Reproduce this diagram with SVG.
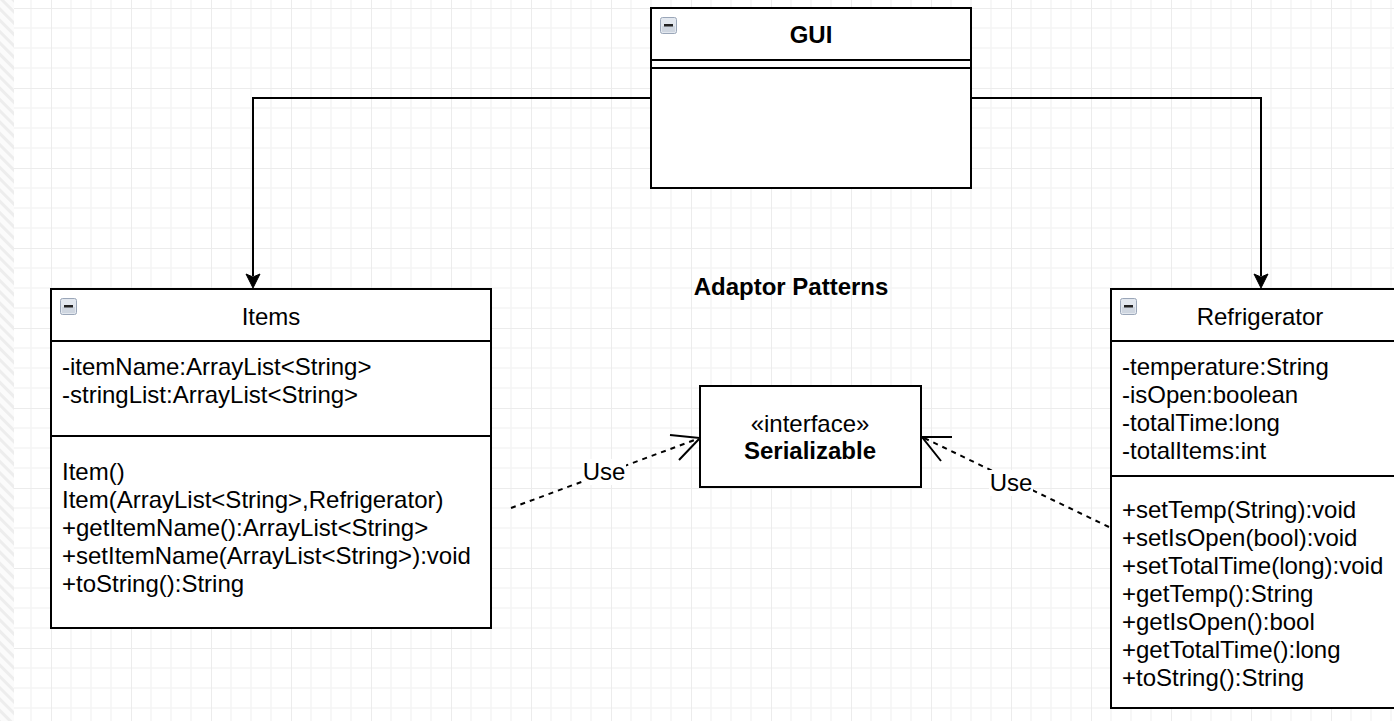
<svg xmlns="http://www.w3.org/2000/svg" width="1394" height="721" viewBox="0 0 1394 721">
  <style>
    .box { fill: #ffffff; stroke: #000000; stroke-width: 2; }
    .sep { stroke: #000000; stroke-width: 2; fill: none; }
    .title { font-family: "Liberation Sans", Arial, sans-serif; font-size: 24px; fill: #000; text-anchor: middle; }
    .bold { font-weight: bold; }
    .member { font-family: "Liberation Sans", Arial, sans-serif; font-size: 24px; fill: #000; }
    .edge { stroke: #000000; stroke-width: 2; fill: none; }
    .dash { stroke: #000000; stroke-width: 2; fill: none; stroke-dasharray: 5 5; }
    .head { fill: #000000; stroke: #000000; stroke-width: 1; }
    .open { stroke: #000000; stroke-width: 2; fill: none; }
    .label { font-family: "Liberation Sans", Arial, sans-serif; font-size: 24px; fill: #000; text-anchor: middle; }
  </style>
  <defs>
    <pattern id="grid" x="51" y="8" width="80" height="80" patternUnits="userSpaceOnUse">
      <path d="M20 0V80M40 0V80M60 0V80M0 20H80M0 40H80M0 60H80" stroke="#f5f5f5" stroke-width="1.5"/>
      <path d="M0 0V80M0 0H80" stroke="#ececec" stroke-width="2"/>
    </pattern>
    <pattern id="hatch" width="8" height="8" patternUnits="userSpaceOnUse" patternTransform="rotate(-45)">
      <rect width="8" height="8" fill="#fbfbfb"/>
      <rect width="3" height="8" fill="#ededed"/>
    </pattern>
    <g id="collapse">
      <rect x="0.5" y="0.5" width="16" height="16" rx="2" fill="#e3e8ef" stroke="#9aa6b8" stroke-width="1"/>
      <rect x="2" y="9" width="13" height="6" fill="#cfd6e0"/>
      <rect x="4" y="7" width="9" height="2.5" fill="#222"/>
    </g>
  </defs>

  <!-- canvas -->
  <rect width="1394" height="721" fill="#ffffff"/>
  <rect x="14" width="1380" height="721" fill="url(#grid)"/>
  <rect width="14" height="721" fill="url(#hatch)"/>

  <!-- connectors -->
  <g id="connectors">
    <path class="edge" d="M651 98H253V276"/>
    <path class="head" d="M253 288L246 274L253 277L260 274Z"/>
    <path class="edge" d="M971 98H1261V276"/>
    <path class="head" d="M1261 288L1254 274L1261 277L1268 274Z"/>

    <path class="dash" d="M511 508L700 438"/>
    <path class="open" d="M670 435L700 438L679 460"/>
    <path class="dash" d="M1109 527L922 437"/>
    <path class="open" d="M952 437L922 437L941 461"/>

    <rect x="582" y="459" width="44" height="26" fill="#ffffff"/>
    <text class="label" x="604" y="480">Use</text>
    <rect x="989" y="470" width="44" height="26" fill="#ffffff"/>
    <text class="label" x="1011" y="491">Use</text>
  </g>

  <text class="title bold" x="791" y="295">Adaptor Patterns</text>

  <!-- GUI class -->
  <g id="gui">
    <rect class="box" x="651" y="8" width="320" height="180"/>
    <path class="sep" d="M651 60H971M651 68H971"/>
    <use href="#collapse" x="660" y="17"/>
    <text class="title bold" x="811" y="43">GUI</text>
  </g>

  <!-- Items class -->
  <g id="items">
    <rect class="box" x="51" y="289" width="440" height="339"/>
    <path class="sep" d="M51 341H491M51 436H491"/>
    <use href="#collapse" x="60" y="298"/>
    <text class="title" x="271" y="325">Items</text>
    <text class="member" x="62" y="375">-itemName:ArrayList&lt;String&gt;</text>
    <text class="member" x="62" y="403">-stringList:ArrayList&lt;String&gt;</text>
    <text class="member" x="62" y="480">Item()</text>
    <text class="member" x="62" y="508">Item(ArrayList&lt;String&gt;,Refrigerator)</text>
    <text class="member" x="62" y="536">+getItemName():ArrayList&lt;String&gt;</text>
    <text class="member" x="62" y="564">+setItemName(ArrayList&lt;String&gt;):void</text>
    <text class="member" x="62" y="592">+toString():String</text>
  </g>

  <!-- Serializable interface -->
  <g id="serializable">
    <rect class="box" x="700" y="386" width="221" height="101"/>
    <text class="title" x="810" y="432">«interface»</text>
    <text class="title bold" x="810" y="459">Serializable</text>
  </g>

  <!-- Refrigerator class -->
  <g id="refrigerator">
    <rect class="box" x="1111" y="289" width="300" height="419"/>
    <path class="sep" d="M1111 341H1411M1111 476H1411"/>
    <use href="#collapse" x="1120" y="298"/>
    <text class="title" x="1260" y="325">Refrigerator</text>
    <text class="member" x="1122" y="375">-temperature:String</text>
    <text class="member" x="1122" y="403">-isOpen:boolean</text>
    <text class="member" x="1122" y="431">-totalTime:long</text>
    <text class="member" x="1122" y="459">-totalItems:int</text>
    <text class="member" x="1122" y="518">+setTemp(String):void</text>
    <text class="member" x="1122" y="546">+setIsOpen(bool):void</text>
    <text class="member" x="1122" y="574">+setTotalTime(long):void</text>
    <text class="member" x="1122" y="602">+getTemp():String</text>
    <text class="member" x="1122" y="630">+getIsOpen():bool</text>
    <text class="member" x="1122" y="658">+getTotalTime():long</text>
    <text class="member" x="1122" y="686">+toString():String</text>
  </g>
</svg>
